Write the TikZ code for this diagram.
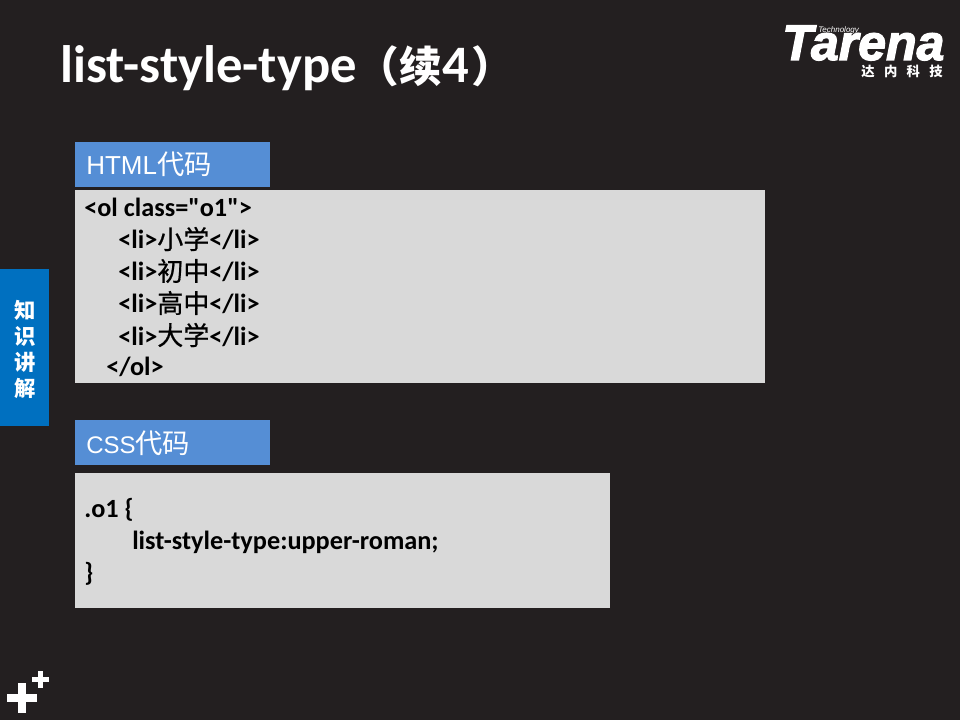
\documentclass[tikz,border=0pt]{standalone}
\usepackage{fontspec}
\setmainfont{Carlito}
\newfontfamily\codefont{Carlito}
\newfontfamily\cjk{Noto Sans CJK SC}
\newfontfamily\cjkmed[FakeBold=0.6]{Noto Sans CJK SC}
\newfontfamily\logofont[FakeBold=2.5]{Liberation Sans}
\newfontfamily\techfont{Liberation Sans}
\newfontfamily\headfont{Liberation Sans}
\definecolor{bgdark}{HTML}{231F20}
\definecolor{bluebar}{HTML}{558ED5}
\definecolor{codegray}{HTML}{D9D9D9}
\definecolor{sidetab}{HTML}{0070C0}
\newcommand{\cn}[1]{{\fontsize{20.5}{20.5}\selectfont\cjk #1}}
\newcommand{\cnb}[1]{{\cjk\bfseries #1}}
\newcommand{\cnc}[1]{{\fontsize{19.5}{19.5}\selectfont\mdseries\cjkmed #1}}
\tikzset{
  x=0.75pt,y=-0.75pt,
  panel/.style={fill=codegray,draw=none},
  headbar/.style={fill=bluebar,draw=none},
  codeline/.style={anchor=west,inner sep=0pt,text=black,font=\codefont\fontsize{19.7}{20}\selectfont\bfseries},
  headtext/.style={anchor=base west,inner sep=0pt,text=white},
  plusbar/.style={fill=white,draw=none},
}
\begin{document}
\begin{tikzpicture}
\useasboundingbox (0,0) rectangle (960,720);
\fill[bgdark] (0,0) rectangle (960,720);
% title
\node[anchor=base west,inner sep=0pt,text=white,font=\fontsize{39.5}{40}\selectfont\bfseries] (title) at (60,83) {list-style-type{\fontsize{32}{32}\selectfont\cnb{（续}}4\hspace{2pt}{\fontsize{32}{32}\selectfont\cnb{）}}};
% logo
\node[anchor=base west,inner sep=0pt,text=white,font=\logofont\fontsize{37.5}{38}\selectfont\bfseries\itshape] (logo) at (782,60) {Tarena};
\node[anchor=base west,inner sep=0pt,text=white,font=\techfont\fontsize{6}{6}\selectfont\itshape] (logotech) at (818,33) {Technology};
\node[anchor=base east,inner sep=0pt,text=white,font=\fontsize{10}{10}\selectfont] (logocn) at (943,77) {\cnb{达\hspace{7pt}内\hspace{7pt}科\hspace{7pt}技}};
% side tab
\fill[sidetab] (0,269) rectangle (49,426);
\node[inner sep=0pt,text=white,align=center,font=\fontsize{16}{19.5}\selectfont] (side) at (25,349) {\cnb{知}\\\cnb{识}\\\cnb{讲}\\\cnb{解}};
% html
\fill[headbar] (75,142) rectangle (270,187);
\node[headtext,font=\headfont\fontsize{19.5}{20}\selectfont] (h1) at (86,175) {HTML\cn{代码}};
\fill[panel] (75,190) rectangle (765,383);
\node[codeline] (a1) at (84,207) {<ol class="o1">};
\node[codeline] (a2) at (118,239) {<li>\cnc{小学}</li>};
\node[codeline] (a3) at (118,271) {<li>\cnc{初中}</li>};
\node[codeline] (a4) at (118,303) {<li>\cnc{高中}</li>};
\node[codeline] (a5) at (118,335) {<li>\cnc{大学}</li>};
\node[codeline] (a6) at (106,367) {</ol>};
% css
\fill[headbar] (75,420) rectangle (270,465);
\node[headtext,font=\headfont\fontsize{18}{20}\selectfont] (h2) at (86,453) {CSS\cn{代码}};
\fill[panel] (75,473) rectangle (610,608);
\node[codeline] (b1) at (84,510) {.o1 \{};
\node[codeline] (b2) at (132,542) {list-style-type:upper-roman;};
\node[codeline] (b3) at (84,574) {\}};
% plus signs
\fill[plusbar] (7,694) rectangle (37,702);
\fill[plusbar] (18,683) rectangle (26,713);
\fill[plusbar] (32,677) rectangle (49,682);
\fill[plusbar] (38,671) rectangle (43,688);
\end{tikzpicture}
\end{document}
